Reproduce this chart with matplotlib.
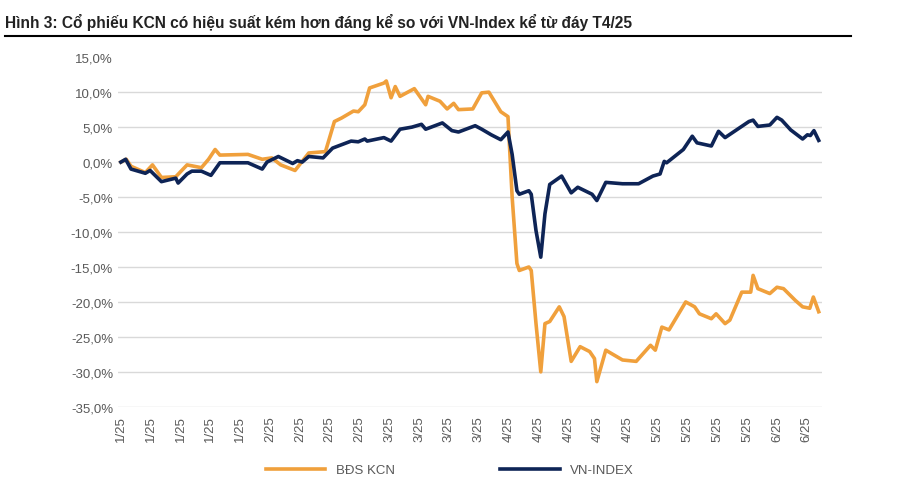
import matplotlib
matplotlib.use("Agg")
import matplotlib.pyplot as plt
from matplotlib.ticker import FuncFormatter

kcn_day = [0,0.9,1.7,4.1,5.3,6.8,9.2,11.1,13.5,14.7,15.8,16.6,21.3,23.7,25.3,26.8,29.2,31.5,34.3,35.8,37.0,39.0,39.8,40.9,41.7,44.1,44.5,45.3,46.0,46.8,49.2,51.1,51.5,53.5,54.7,55.8,56.6,59.0,60.5,61.7,63.7,64.9,65.6,66.4,66.8,68.4,68.8,69.6,70.4,71.1,71.9,73.5,74.3,75.5,77.0,78.6,79.4,79.8,81.3,84.1,86.4,88.8,89.6,90.7,91.9,94.7,96.2,97.0,99.0,99.8,101.3,102.1,104.1,105.6,106.0,106.8,108.8,110.0,111.1,113.1,114.3,115.5,116.1,117.0]
kcn_val = [0,0.4,-0.6,-1.5,-0.4,-2.2,-2.1,-0.4,-0.8,0.4,1.8,1.0,1.1,0.4,0.6,-0.4,-1.2,1.3,1.5,5.8,6.3,7.3,7.2,8.2,10.6,11.3,11.6,9.2,10.8,9.4,10.5,8.2,9.4,8.7,7.6,8.4,7.5,7.6,9.9,10.0,7.2,6.5,-5.0,-14.5,-15.5,-15.0,-15.5,-23.1,-30.0,-23.1,-22.8,-20.7,-22.1,-28.5,-26.4,-27.1,-28.1,-31.4,-26.9,-28.3,-28.5,-26.2,-26.9,-23.6,-24.0,-20.0,-20.7,-21.7,-22.4,-21.7,-23.1,-22.6,-18.6,-18.6,-16.2,-18.1,-18.8,-17.9,-18.1,-19.8,-20.7,-20.9,-19.3,-21.4]

vn_day = [0,0.8,1.7,4.1,4.9,6.8,9.2,9.6,11.1,11.9,13.5,15.1,16.6,21.3,23.7,24.5,26.4,28.8,29.6,30.4,31.5,33.9,35.5,38.6,39.8,40.9,41.3,44.1,45.3,46.8,48.8,50.4,51.1,53.9,55.5,56.6,59.4,60.5,62.1,63.7,64.9,65.6,66.4,66.8,68.4,68.8,69.6,70.4,71.1,71.9,73.9,75.5,76.6,79.0,79.8,81.3,84.1,86.8,89.2,90.4,91.1,91.5,94.3,95.8,96.6,99.0,100.2,101.3,105.3,106.0,106.8,108.8,110.0,110.8,112.3,114.3,115.1,115.6,116.2,117.0]
vn_val = [0,0.4,-1.0,-1.6,-1.2,-2.8,-2.3,-3.0,-1.7,-1.3,-1.3,-1.9,-0.1,-0.1,-1.0,0.0,0.8,-0.2,0.2,0.0,0.8,0.6,2.0,3.0,2.9,3.3,3.0,3.5,3.0,4.7,5.0,5.4,4.7,5.6,4.5,4.3,5.2,4.7,3.9,3.2,4.3,1.1,-4.1,-4.6,-4.1,-4.6,-9.8,-13.6,-7.4,-3.2,-2.0,-4.4,-3.6,-4.6,-5.5,-2.9,-3.1,-3.1,-2.0,-1.7,0.1,-0.1,1.8,3.7,2.75,2.3,4.4,3.5,5.8,6.0,5.1,5.3,6.4,6.0,4.6,3.3,3.9,3.8,4.5,3.1]

tick_labels = ["1/25"]*5 + ["2/25"]*4 + ["3/25"]*4 + ["4/25"]*5 + ["5/25"]*4 + ["6/25"]*2
title = "Hình 3: Cổ phiếu KCN có hiệu suất kém hơn đáng kể so với VN-Index kể từ đáy T4/25"

plt.rcParams["font.family"] = "Liberation Sans"
fig = plt.figure(figsize=(9, 4.89), dpi=100)
ax = fig.add_axes([0.131, 0.166, 0.782, 0.715])

ax.plot(kcn_day, kcn_val, color="#F0A03C", lw=2.6, label="BĐS KCN", solid_joinstyle="round")
ax.plot(vn_day, vn_val, color="#0E2456", lw=2.6, label="VN-INDEX", solid_joinstyle="round")

ax.set_ylim(-35, 15)
ax.set_xlim(-0.5, 117.5)
ax.set_yticks(range(-35, 16, 5))
ax.yaxis.set_major_formatter(FuncFormatter(lambda v, p: f"{v:.1f}%".replace(".", ",")))
ax.set_xticks([i * 5 for i in range(len(tick_labels))])
ax.set_xticklabels(tick_labels, rotation=90)
for g in range(-35, 15, 5):
    ax.axhline(g, color="#D9D9D9", lw=1, zorder=0)
for s in ax.spines.values():
    s.set_visible(False)
ax.tick_params(axis="both", length=0, labelsize=9.5, colors="#595959")
ax.tick_params(axis="x", pad=6)

fig.text(0.006, 0.955, title, fontsize=11.2, fontweight="bold", color="#222222", va="center")
fig.add_artist(plt.Line2D([0.006, 0.945], [0.925, 0.925], color="black", lw=1.5, transform=fig.transFigure))

fig.legend(loc="lower center", bbox_to_anchor=(0.5, 0.0), ncol=2, frameon=False,
           fontsize=9.5, handlelength=4.5, columnspacing=8, labelcolor="#595959")

fig.savefig("out.png", dpi=100, facecolor="white")
